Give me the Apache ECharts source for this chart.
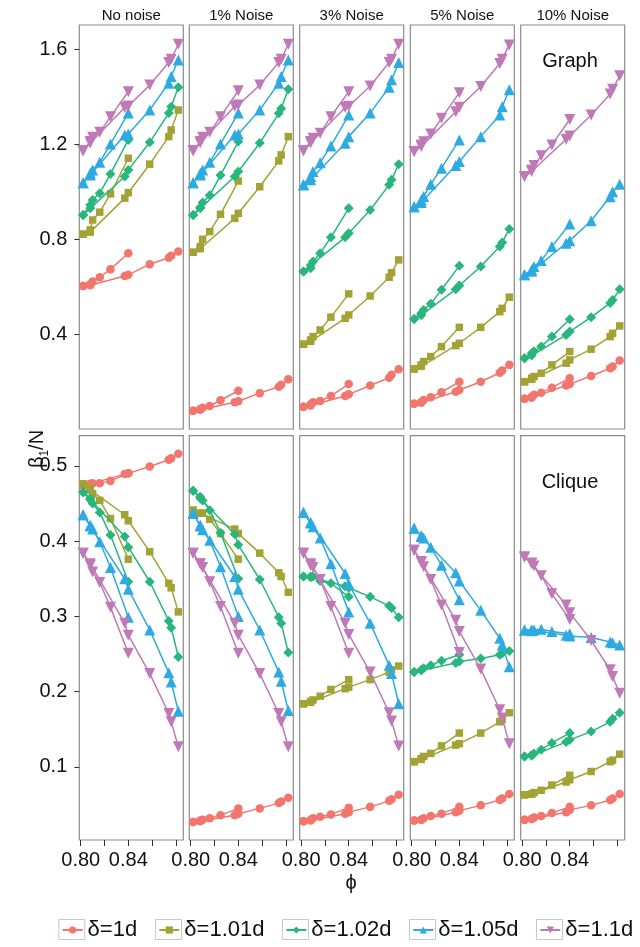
<!DOCTYPE html>
<html><head><meta charset="utf-8">
<script src="https://cdn.jsdelivr.net/npm/echarts@6/dist/echarts.min.js"></script>
<style>html,body{margin:0;padding:0;background:#fff}#c{width:640px;height:947px}</style>
</head><body><div id="c"></div><script>
// ---------- data ----------
const X_A = [0.802, 0.808, 0.810, 0.816, 0.825, 0.840];
const X_B = [0.802, 0.808, 0.837, 0.840, 0.858, 0.874, 0.876, 0.882];
const NOISE_LABELS = ['No noise', '1% Noise', '3% Noise', '5% Noise', '10% Noise'];
const ROW_LABELS = ['Graph', 'Clique'];
const DELTAS = ['δ=1d', 'δ=1.01d', 'δ=1.02d', 'δ=1.05d', 'δ=1.1d'];
const X_TICKS = [0.80, 0.82, 0.84, 0.86, 0.88];
const X_TICK_LABELS = [0.80, 0.84];
const Y_TICKS_GRAPH = [0.4, 0.8, 1.2, 1.6];
const Y_TICKS_CLIQUE = [0.1, 0.2, 0.3, 0.4, 0.5];

// Graph row — each: [group A (X_A), group B (X_B)]
const G0_d1   = [[0.603,0.610,0.622,0.640,0.674,0.741],[0.603,0.606,0.645,0.650,0.695,0.722,0.730,0.748]];
const G0_d101 = [[0.821,0.839,0.881,0.914,0.991,1.141],[0.821,0.830,0.973,0.996,1.116,1.232,1.260,1.344]];
const G0_d102 = [[0.902,0.944,0.965,0.994,1.075,1.218],[0.902,0.930,1.064,1.092,1.208,1.331,1.358,1.440]];
const G0_d105 = [[1.038,1.078,1.092,1.124,1.201,1.331],[1.038,1.070,1.239,1.243,1.344,1.457,1.485,1.555]];
const G0_d11  = [[1.173,1.211,1.229,1.250,1.316,1.421],[1.173,1.205,1.355,1.361,1.449,1.544,1.558,1.621]];

const G1_d1   = [[0.078,0.085,0.090,0.098,0.122,0.162],[0.078,0.082,0.114,0.118,0.152,0.179,0.187,0.210]];
const G1_d101 = [[0.745,0.769,0.800,0.832,0.905,1.045],[0.745,0.760,0.888,0.909,1.021,1.130,1.155,1.232]];
const G1_d102 = [[0.902,0.935,0.955,0.985,1.069,1.211],[0.902,0.930,1.064,1.085,1.205,1.330,1.350,1.431]];
const G1_d105 = [[1.038,1.078,1.092,1.124,1.201,1.331],[1.038,1.070,1.239,1.243,1.344,1.457,1.485,1.555]];
const G1_d11  = [[1.173,1.211,1.229,1.250,1.316,1.425],[1.173,1.205,1.360,1.365,1.449,1.544,1.558,1.621]];

const G2_d1   = [[0.095,0.105,0.114,0.119,0.140,0.190],[0.095,0.100,0.140,0.147,0.184,0.217,0.229,0.253]];
const G2_d101 = [[0.358,0.376,0.390,0.418,0.472,0.570],[0.358,0.370,0.467,0.481,0.561,0.640,0.659,0.713]];
const G2_d102 = [[0.664,0.678,0.706,0.741,0.808,0.930],[0.664,0.690,0.808,0.825,0.923,1.029,1.050,1.116]];
const G2_d105 = [[1.029,1.064,1.085,1.122,1.193,1.323],[1.029,1.050,1.204,1.232,1.331,1.440,1.471,1.544]];
const G2_d11  = [[1.173,1.211,1.225,1.246,1.316,1.421],[1.173,1.205,1.355,1.360,1.445,1.544,1.558,1.621]];

const G3_d1   = [[0.107,0.115,0.123,0.135,0.156,0.200],[0.107,0.112,0.158,0.165,0.200,0.238,0.247,0.271]];
const G3_d101 = [[0.254,0.271,0.285,0.306,0.348,0.429],[0.254,0.265,0.352,0.362,0.429,0.495,0.509,0.556]];
const G3_d102 = [[0.464,0.488,0.502,0.528,0.587,0.688],[0.464,0.480,0.589,0.605,0.685,0.769,0.786,0.843]];
const G3_d105 = [[0.937,0.965,0.980,1.031,1.099,1.218],[0.937,0.955,1.110,1.127,1.232,1.323,1.358,1.429]];
const G3_d11  = [[1.169,1.197,1.210,1.243,1.309,1.417],[1.169,1.190,1.337,1.356,1.443,1.540,1.558,1.618]];

const G4_d1   = [[0.128,0.137,0.145,0.154,0.175,0.215],[0.128,0.133,0.184,0.190,0.224,0.257,0.264,0.289]];
const G4_d101 = [[0.200,0.215,0.222,0.236,0.271,0.327],[0.200,0.210,0.278,0.292,0.337,0.390,0.404,0.435]];
const G4_d102 = [[0.299,0.320,0.328,0.348,0.390,0.463],[0.299,0.310,0.397,0.411,0.472,0.531,0.544,0.589]];
const G4_d105 = [[0.650,0.671,0.685,0.710,0.769,0.864],[0.650,0.665,0.783,0.794,0.878,0.979,1.000,1.031]];
const G4_d11  = [[1.064,1.092,1.110,1.151,1.197,1.304],[1.064,1.085,1.221,1.235,1.323,1.412,1.431,1.488]];

// Clique row
const C0_d1   = [[0.474,0.476,0.477,0.477,0.480,0.490],[0.474,0.476,0.489,0.490,0.499,0.508,0.510,0.516]];
const C0_d101 = [[0.476,0.470,0.463,0.454,0.430,0.376],[0.476,0.468,0.435,0.427,0.386,0.344,0.338,0.306]];
const C0_d102 = [[0.465,0.457,0.450,0.438,0.408,0.346],[0.465,0.455,0.406,0.392,0.346,0.294,0.285,0.246]];
const C0_d105 = [[0.435,0.421,0.416,0.399,0.365,0.299],[0.435,0.420,0.350,0.336,0.282,0.225,0.213,0.174]];
const C0_d11  = [[0.384,0.368,0.359,0.345,0.312,0.251],[0.384,0.370,0.291,0.275,0.224,0.171,0.160,0.127]];

const C1_d1   = [[0.027,0.029,0.030,0.032,0.036,0.045],[0.027,0.028,0.036,0.038,0.045,0.052,0.054,0.059]];
const C1_d101 = [[0.441,0.437,0.437,0.429,0.410,0.376],[0.441,0.437,0.416,0.410,0.384,0.358,0.353,0.332]];
const C1_d102 = [[0.467,0.459,0.454,0.441,0.411,0.350],[0.467,0.457,0.409,0.395,0.349,0.299,0.291,0.252]];
const C1_d105 = [[0.437,0.421,0.415,0.401,0.366,0.300],[0.437,0.420,0.353,0.336,0.282,0.226,0.214,0.175]];
const C1_d11  = [[0.384,0.370,0.365,0.346,0.313,0.251],[0.384,0.370,0.291,0.275,0.224,0.171,0.160,0.127]];

const C2_d1   = [[0.028,0.030,0.032,0.034,0.037,0.046],[0.028,0.029,0.038,0.040,0.047,0.055,0.057,0.063]];
const C2_d101 = [[0.184,0.187,0.189,0.194,0.203,0.216],[0.184,0.186,0.204,0.206,0.216,0.226,0.229,0.234]];
const C2_d102 = [[0.353,0.353,0.353,0.347,0.344,0.326],[0.353,0.352,0.340,0.338,0.326,0.314,0.311,0.299]];
const C2_d105 = [[0.438,0.424,0.419,0.404,0.370,0.306],[0.438,0.425,0.357,0.343,0.291,0.235,0.224,0.184]];
const C2_d11  = [[0.384,0.368,0.365,0.349,0.313,0.251],[0.384,0.370,0.291,0.276,0.226,0.172,0.161,0.128]];

const C3_d1   = [[0.029,0.030,0.032,0.035,0.038,0.047],[0.029,0.030,0.040,0.042,0.049,0.056,0.058,0.064]];
const C3_d101 = [[0.107,0.111,0.114,0.118,0.128,0.145],[0.107,0.110,0.129,0.131,0.145,0.160,0.163,0.172]];
const C3_d102 = [[0.226,0.229,0.231,0.235,0.241,0.249],[0.226,0.228,0.238,0.240,0.244,0.249,0.251,0.254]];
const C3_d105 = [[0.417,0.407,0.404,0.392,0.368,0.322],[0.417,0.406,0.358,0.347,0.308,0.271,0.262,0.233]];
const C3_d11  = [[0.388,0.373,0.366,0.349,0.315,0.252],[0.388,0.372,0.295,0.280,0.230,0.176,0.165,0.131]];

const C4_d1   = [[0.030,0.031,0.033,0.035,0.039,0.047],[0.030,0.031,0.040,0.043,0.049,0.056,0.058,0.064]];
const C4_d101 = [[0.063,0.064,0.066,0.069,0.076,0.089],[0.063,0.064,0.080,0.083,0.094,0.107,0.109,0.117]];
const C4_d102 = [[0.114,0.116,0.118,0.123,0.132,0.145],[0.114,0.115,0.133,0.136,0.147,0.160,0.164,0.172]];
const C4_d105 = [[0.282,0.281,0.282,0.283,0.280,0.277],[0.282,0.282,0.275,0.274,0.272,0.266,0.265,0.262]];
const C4_d11  = [[0.379,0.371,0.367,0.354,0.330,0.296],[0.379,0.370,0.315,0.305,0.268,0.229,0.220,0.198]];

// ---------- structure ----------
const ROWS = [
  [[G0_d1,G0_d101,G0_d102,G0_d105,G0_d11],[G1_d1,G1_d101,G1_d102,G1_d105,G1_d11],[G2_d1,G2_d101,G2_d102,G2_d105,G2_d11],[G3_d1,G3_d101,G3_d102,G3_d105,G3_d11],[G4_d1,G4_d101,G4_d102,G4_d105,G4_d11]],
  [[C0_d1,C0_d101,C0_d102,C0_d105,C0_d11],[C1_d1,C1_d101,C1_d102,C1_d105,C1_d11],[C2_d1,C2_d101,C2_d102,C2_d105,C2_d11],[C3_d1,C3_d101,C3_d102,C3_d105,C3_d11],[C4_d1,C4_d101,C4_d102,C4_d105,C4_d11]]
];

// ---------- styling ----------
const FONT = '"Liberation Sans", Arial, Helvetica, sans-serif';
const COLORS = ['#F2756E', '#A3A335', '#28B67C', '#2EAAE2', '#BE79B6'];
const SYMBOLS = ['circle', 'rect', 'diamond', 'triangle', 'triangle'];
const SYM_SIZE = [8.5, 7.5, 10, 11, 11];
const SYM_ROT = [0, 0, 0, 0, 180];
const PANEL_LEFT = [79.3, 189.3, 299.7, 410.3, 520.7];
const PANEL_W = 104;
const ROW_TOP = [25, 435.7];
const ROW_H = [404, 404.3];
const X_RANGE = [0.7988, 0.8862];
const Y_RANGE = [[0.001, 1.702], [0.003, 0.540]];
const LEGEND_BOX_LEFT = [58.3, 155, 282, 409, 536];

const grids = [], xAxes = [], yAxes = [], series = [], graphics = [];
for (let r = 0; r < 2; r++) {
  for (let c = 0; c < 5; c++) {
    const idx = r * 5 + c;
    grids.push({ left: PANEL_LEFT[c], top: ROW_TOP[r], width: PANEL_W, height: ROW_H[r],
      show: true, borderColor: '#8c8c8c', borderWidth: 1.2, backgroundColor: 'transparent',
      outerBoundsMode: 'none', containLabel: false });
    xAxes.push({ gridIndex: idx, type: 'value', min: X_RANGE[0], max: X_RANGE[1], show: r === 1,
      axisLine: { show: false, onZero: false }, splitLine: { show: false },
      axisTick: { show: true, length: 6, lineStyle: { color: '#333', width: 1 }, customValues: X_TICKS },
      axisLabel: { show: true, customValues: X_TICK_LABELS, formatter: v => Number(v).toFixed(2),
        fontSize: 20, color: '#111', margin: 10, fontFamily: FONT, hideOverlap: false } });
    const yt = r === 0 ? Y_TICKS_GRAPH : Y_TICKS_CLIQUE;
    yAxes.push({ gridIndex: idx, type: 'value', min: Y_RANGE[r][0], max: Y_RANGE[r][1], show: c === 0,
      axisLine: { show: false, onZero: false }, splitLine: { show: false },
      axisTick: { show: true, length: 5, lineStyle: { color: '#333', width: 1 }, customValues: yt },
      axisLabel: { show: true, customValues: yt, formatter: v => Number(v).toFixed(1),
        fontSize: 20, color: '#111', margin: 12, fontFamily: FONT, hideOverlap: false } });
    const panel = ROWS[r][c];
    panel.forEach((groups, d) => {
      [X_A, X_B].forEach((xs, g) => {
        series.push({ type: 'line', name: DELTAS[d], xAxisIndex: idx, yAxisIndex: idx,
          data: xs.map((x, k) => [x, groups[g][k]]),
          symbol: SYMBOLS[d], symbolSize: SYM_SIZE[d], symbolRotate: SYM_ROT[d],
          showSymbol: true, showAllSymbol: true, clip: true,
          lineStyle: { color: COLORS[d], width: 1.5 }, itemStyle: { color: COLORS[d] },
          silent: true, animation: false, z: 2 + d });
      });
    });
    if (r === 0) {
      graphics.push({ type: 'text', x: PANEL_LEFT[c] + PANEL_W / 2, y: 15.5,
        style: { text: NOISE_LABELS[c], font: '15px ' + FONT, fill: '#111', textAlign: 'center', textVerticalAlign: 'middle' } });
    }
  }
}
// row labels inside last column
graphics.push({ type: 'text', x: 570, y: 61, style: { text: ROW_LABELS[0], font: '20px ' + FONT, fill: '#111', textAlign: 'center', textVerticalAlign: 'middle' } });
graphics.push({ type: 'text', x: 570, y: 482, style: { text: ROW_LABELS[1], font: '20px ' + FONT, fill: '#111', textAlign: 'center', textVerticalAlign: 'middle' } });
// axis titles
graphics.push({ type: 'text', x: 351, y: 883, style: { text: 'ϕ', font: '20px ' + FONT, fill: '#111', textAlign: 'center', textVerticalAlign: 'middle' } });
graphics.push({ type: 'text', x: 37, y: 449, rotation: Math.PI / 2,
  style: { text: '{b|β}{s|1}{b|/N}', textAlign: 'center', textVerticalAlign: 'middle', fill: '#111',
    rich: { b: { fontSize: 20, fontFamily: FONT, lineHeight: 28, verticalAlign: 'middle', fill: '#111' },
            s: { fontSize: 12, fontFamily: FONT, lineHeight: 12, verticalAlign: 'bottom', fill: '#111' } } } });
// legend key boxes
LEGEND_BOX_LEFT.forEach(x => {
  graphics.push({ type: 'rect', z: 1, shape: { x: x + 0.5, y: 919.5, width: 26, height: 20 },
    style: { fill: '#fff', stroke: '#c8c8c8', lineWidth: 1 } });
});

const legends = DELTAS.map((name, i) => ({
  data: [name], left: LEGEND_BOX_LEFT[i] + 3.3, top: 919, orient: 'horizontal',
  itemWidth: 20, itemHeight: 9, padding: 0, itemGap: 0, selectedMode: false, z: 10,
  textStyle: { fontSize: 22, color: '#111', fontFamily: FONT }
}));

const chart = echarts.init(document.getElementById('c'), null, { renderer: 'canvas' });
chart.setOption({
  backgroundColor: '#fff',
  animation: false,
  grid: grids, xAxis: xAxes, yAxis: yAxes, series: series,
  legend: legends,
  graphic: { elements: graphics }
});
</script></body></html>
